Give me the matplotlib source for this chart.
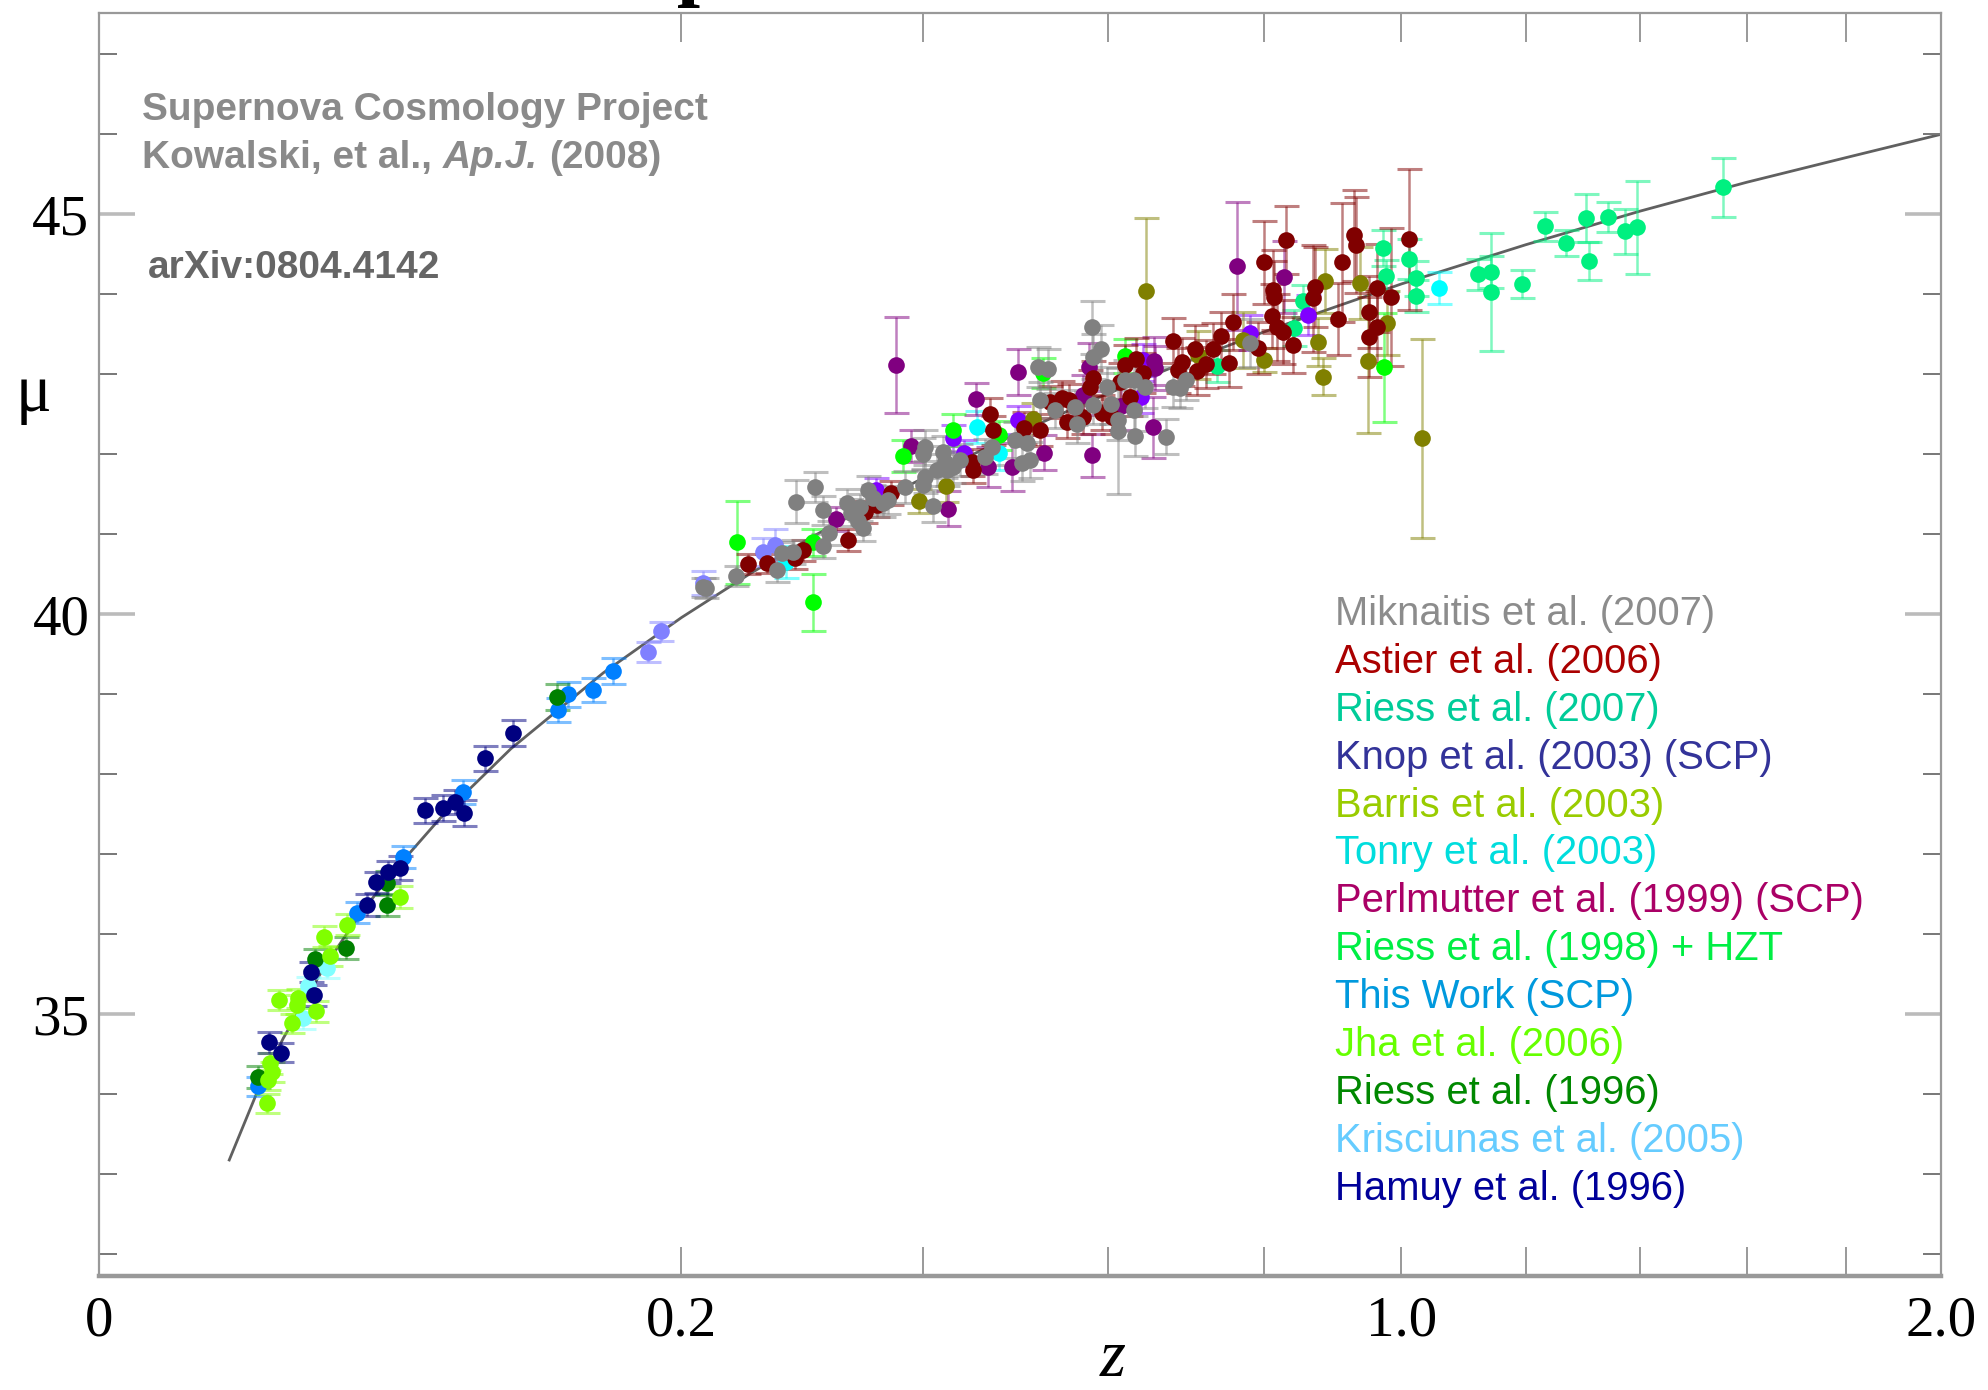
import matplotlib
matplotlib.use('Agg')
import numpy as np
import matplotlib.pyplot as plt
from matplotlib.colors import to_rgba

# ---- data (z, distance modulus mu, error) ----
hamuy_z = [0.0171, 0.0195, 0.0265, 0.0273, 0.0424, 0.0453, 0.0493, 0.0535, 0.0627, 0.0698, 0.0748, 0.0786, 0.0879, 0.1011]
hamuy_mu = [34.65, 34.52, 35.53, 35.24, 36.37, 36.65, 36.78, 36.83, 37.55, 37.58, 37.65, 37.52, 38.20, 38.52]
hamuy_err = [0.13, 0.12, 0.12, 0.13, 0.14, 0.13, 0.14, 0.15, 0.16, 0.16, 0.15, 0.16, 0.16, 0.16]

riess96_z = [0.0149, 0.0275, 0.0360, 0.0489, 0.0489, 0.1238]
riess96_mu = [34.22, 35.69, 35.83, 36.64, 36.37, 38.97]
riess96_err = [0.14, 0.13, 0.14, 0.15, 0.14, 0.16]

jha_z = [0.0535, 0.0363, 0.0299, 0.0315, 0.0191, 0.0234, 0.0231, 0.0278, 0.0220, 0.0173, 0.0177, 0.0169, 0.0167]
jha_mu = [36.47, 36.12, 35.97, 35.73, 35.18, 35.20, 35.12, 35.04, 34.89, 34.39, 34.28, 34.18, 33.89]
jha_err = [0.14, 0.13, 0.13, 0.13, 0.12, 0.12, 0.12, 0.13, 0.12, 0.13, 0.13, 0.13, 0.12]

thiswork_z = [0.0149, 0.0393, 0.0545, 0.0782, 0.1243, 0.1297, 0.1440, 0.1559]
thiswork_mu = [34.10, 36.27, 36.97, 37.78, 38.81, 39.00, 39.05, 39.29]
thiswork_err = [0.12, 0.13, 0.14, 0.15, 0.15, 0.16, 0.15, 0.16]

kris_z = [0.0307, 0.0258, 0.0246]
kris_mu = [35.58, 35.35, 34.95]
kris_err = [0.13, 0.12, 0.13]

# periwinkle points (no legend entry in the original)
extra_z = [0.1778, 0.1863, 0.2152, 0.2601, 0.2696]
extra_mu = [39.53, 39.79, 40.39, 40.78, 40.87]
extra_err = [0.12, 0.12, 0.15, 0.18, 0.20]

riess98_z = [0.2401, 0.3007, 0.3007, 0.3813, 0.4302, 0.4778, 0.5257, 0.6210, 0.9726]
riess98_mu = [40.90, 40.15, 40.90, 41.98, 42.30, 42.24, 43.02, 43.23, 43.09]
riess98_err = [0.52, 0.36, 0.17, 0.20, 0.20, 0.18, 0.19, 0.21, 0.68]

riess07_z = [0.7373, 0.8411, 0.8551, 0.9711, 1.0108, 0.9771, 1.0217, 1.0217, 1.1217, 1.1414,
             1.1414, 1.1929, 1.2317, 1.2678, 1.3026, 1.3079, 1.3414, 1.3719, 1.3936, 1.5538]
riess07_mu = [43.10, 43.58, 43.92, 44.58, 44.44, 44.23, 44.20, 43.98, 44.25, 44.28,
              44.03, 44.13, 44.85, 44.64, 44.95, 44.42, 44.97, 44.79, 44.84, 45.34]
riess07_err = [0.20, 0.22, 0.20, 0.22, 0.25, 0.20, 0.22, 0.20, 0.19, 0.20,
               0.74, 0.18, 0.18, 0.16, 0.30, 0.24, 0.19, 0.28, 0.58, 0.37]

tonry_z = [0.2784, 0.4547, 0.4778, 1.0592]
tonry_mu = [40.65, 42.34, 42.02, 44.08]
tonry_err = [0.20, 0.20, 0.22, 0.20]

knop_z = [0.3562, 0.4302, 0.4414, 0.4982, 0.6405, 0.6429, 0.7815, 0.8623]
knop_mu = [41.55, 42.20, 42.02, 42.43, 42.72, 43.18, 43.52, 43.74]
knop_err = [0.15, 0.17, 0.16, 0.18, 0.20, 0.20, 0.22, 0.25]

perl_z = [0.3204, 0.3747, 0.3890, 0.4252, 0.4537, 0.4662, 0.4917, 0.4982, 0.5268,
          0.5712, 0.5782, 0.5817, 0.6161, 0.6553, 0.6566, 0.6579, 0.7639, 0.8283]
perl_mu = [41.19, 43.12, 42.10, 41.32, 42.69, 41.84, 41.84, 43.03, 42.02,
           42.74, 43.09, 41.99, 42.60, 42.34, 43.17, 43.08, 44.35, 44.22]
perl_err = [0.15, 0.60, 0.20, 0.22, 0.20, 0.25, 0.30, 0.29, 0.22,
            0.25, 0.30, 0.27, 0.30, 0.38, 0.30, 0.28, 0.80, 0.45]

barris_z = [0.3967, 0.4232, 0.5146, 0.6466, 0.7125, 0.7720, 0.8006, 0.8866, 0.8766, 0.8838,
            0.9380, 0.9786, 0.9485, 1.0325]
barris_mu = [41.42, 41.60, 42.44, 44.04, 43.24, 43.43, 43.18, 44.17, 43.40, 42.97,
             44.14, 43.64, 43.17, 42.20]
barris_err = [0.15, 0.20, 0.20, 0.92, 0.30, 0.35, 0.15, 0.40, 0.30, 0.23,
              0.45, 0.40, 0.90, 1.24]

astier_z = [0.2485, 0.2632, 0.2858, 0.2924, 0.3309, 0.3461, 0.3571, 0.3700, 0.4496, 0.4506,
            0.4683, 0.4715, 0.5047, 0.5223, 0.5335, 0.5471, 0.5550, 0.5528, 0.5712, 0.5793,
            0.5828, 0.5935, 0.6053, 0.6150, 0.6210, 0.6271, 0.6344, 0.6429, 0.6804, 0.6868,
            0.6919, 0.7086, 0.7112, 0.7229, 0.7321, 0.7426, 0.7533, 0.7586, 0.7924, 0.8006,
            0.8131, 0.8145, 0.8117, 0.8186, 0.8270, 0.8312, 0.8410, 0.8694, 0.8709, 0.9056,
            0.9114, 0.9291, 0.9321, 0.9500, 0.9514, 0.9620, 0.9635, 0.9847, 1.0123]
astier_mu = [40.63, 40.64, 40.70, 40.80, 40.93, 41.28, 41.37, 41.52, 41.90, 41.80,
             42.50, 42.30, 42.33, 42.30, 42.65, 42.70, 42.68, 42.40, 42.47, 42.84,
             42.95, 42.52, 42.47, 42.90, 43.12, 42.72, 43.19, 43.02, 43.42, 43.05,
             43.15, 43.32, 43.04, 43.13, 43.32, 43.48, 43.14, 43.65, 43.33, 44.40,
             44.05, 43.97, 43.73, 43.59, 43.53, 44.68, 43.37, 43.95, 44.09, 43.69,
             44.40, 44.74, 44.62, 43.47, 43.78, 43.59, 44.08, 43.97, 44.69]
astier_err = [0.12, 0.12, 0.13, 0.13, 0.14, 0.14, 0.15, 0.15, 0.17, 0.16,
              0.20, 0.18, 0.20, 0.20, 0.20, 0.22, 0.20, 0.20, 0.22, 0.22,
              0.22, 0.22, 0.22, 0.24, 0.25, 0.24, 0.26, 0.25, 0.28, 0.28,
              0.30, 0.30, 0.30, 0.30, 0.32, 0.30, 0.30, 0.35, 0.32, 0.52,
              0.50, 0.45, 0.40, 0.42, 0.40, 0.42, 0.35, 0.67, 0.50, 0.45,
              0.74, 0.57, 0.60, 0.50, 0.45, 0.45, 0.55, 0.86, 0.88]

mik_z = [0.2152, 0.2173, 0.2394, 0.2712, 0.2752, 0.2841, 0.3092, 0.3144, 0.3092, 0.2866,
         0.3024, 0.3301, 0.3336, 0.3416, 0.3398, 0.3443, 0.3488, 0.3534, 0.3626, 0.3672,
         0.3832, 0.4103, 0.4025, 0.4005, 0.4025, 0.4005, 0.4202, 0.4222, 0.4242, 0.4143,
         0.4302, 0.4373, 0.4631, 0.4704, 0.4950, 0.5026, 0.5113, 0.5080, 0.5201, 0.5313,
         0.5223, 0.5392, 0.5619, 0.5643, 0.5828, 0.5994, 0.6042, 0.6125, 0.6125, 0.5817,
         0.5923, 0.5828, 0.6319, 0.6210, 0.6454, 0.6319, 0.6332, 0.6716, 0.6804, 0.6894,
         0.6970, 0.7815]
mik_mu = [40.34, 40.33, 40.48, 40.55, 40.77, 40.78, 40.85, 41.02, 41.30, 41.41,
          41.59, 41.39, 41.27, 41.34, 41.17, 41.08, 41.55, 41.45, 41.39, 41.43,
          41.59, 41.35, 41.72, 41.62, 42.09, 42.00, 42.03, 41.90, 41.80, 41.80,
          41.84, 41.93, 41.97, 42.09, 42.18, 41.89, 41.93, 42.14, 43.09, 43.07,
          42.68, 42.55, 42.59, 42.38, 42.62, 42.84, 42.63, 42.43, 42.29, 43.59,
          43.32, 43.22, 42.93, 42.93, 42.84, 42.55, 42.23, 42.22, 42.84, 42.83,
          42.93, 43.39]
mik_err = [0.12, 0.12, 0.13, 0.14, 0.14, 0.15, 0.15, 0.15, 0.18, 0.27,
           0.19, 0.18, 0.17, 0.17, 0.16, 0.16, 0.18, 0.17, 0.17, 0.18,
           0.20, 0.20, 0.20, 0.20, 0.22, 0.20, 0.20, 0.20, 0.20, 0.20,
           0.20, 0.20, 0.22, 0.22, 0.22, 0.22, 0.22, 0.20, 0.25, 0.25,
           0.22, 0.22, 0.22, 0.24, 0.24, 0.25, 0.25, 0.25, 0.79, 0.33,
           0.30, 0.28, 0.25, 0.25, 0.26, 0.26, 0.25, 0.22, 0.25, 0.25,
           0.25, 0.30]

# best-fit cosmology curve
model_z = [0.01, 0.015, 0.02, 0.03, 0.04, 0.05, 0.07, 0.1, 0.15, 0.2, 0.25, 0.3, 0.35,
           0.4, 0.5, 0.6, 0.7, 0.8, 0.9, 1.0, 1.2, 1.4, 1.6, 1.8, 2.0]
model_mu = [33.18, 34.07, 34.70, 35.60, 36.24, 36.74, 37.50, 38.32, 39.27, 39.96, 40.51, 40.97, 41.36,
            41.70, 42.28, 42.76, 43.17, 43.53, 43.84, 44.13, 44.62, 45.04, 45.40, 45.71, 46.00]

legend_labels = ["Miknaitis et al. (2007)", "Astier et al. (2006)", "Riess et al. (2007)",
                 "Knop et al. (2003) (SCP)", "Barris et al. (2003)", "Tonry et al. (2003)",
                 "Perlmutter et al. (1999) (SCP)", "Riess et al. (1998) + HZT", "This Work (SCP)",
                 "Jha et al. (2006)", "Riess et al. (1996)", "Krisciunas et al. (2005)",
                 "Hamuy et al. (1996)"]
legend_colors = ["#8c8c8c", "#aa0000", "#00cc99", "#333399", "#99cc00", "#00dddd", "#aa0066",
                 "#00ee44", "#0099dd", "#66ff00", "#008800", "#66ccff", "#000099"]

# (z, mu, err, marker colour) in drawing order
datasets = [
    (riess07_z, riess07_mu, riess07_err, "#00f080"),
    (tonry_z, tonry_mu, tonry_err, "#00ffff"),
    (knop_z, knop_mu, knop_err, "#8000ff"),
    (barris_z, barris_mu, barris_err, "#808000"),
    (perl_z, perl_mu, perl_err, "#800080"),
    (riess98_z, riess98_mu, riess98_err, "#00ff00"),
    (extra_z, extra_mu, extra_err, "#8080ff"),
    (astier_z, astier_mu, astier_err, "#800000"),
    (mik_z, mik_mu, mik_err, "#808080"),
    (thiswork_z, thiswork_mu, thiswork_err, "#0080ff"),
    (kris_z, kris_mu, kris_err, "#80ffff"),
    (riess96_z, riess96_mu, riess96_err, "#008000"),
    (jha_z, jha_mu, jha_err, "#80ff00"),
    (hamuy_z, hamuy_mu, hamuy_err, "#000080"),
]


def fwd(x):
    return np.sqrt(np.clip(x, 0, None))


def inv(x):
    return np.square(x)


W, H = 1988, 1390
fig = plt.figure(figsize=(W / 200, H / 200), dpi=200)
ax = fig.add_axes([99 / W, 1 - 1276 / H, (1941 - 99) / W, (1276 - 12.7) / H])
ax.set_xscale('function', functions=(fwd, inv))

ax.plot(model_z, model_mu, color='#606060', lw=1.0, zorder=1)

for z, mu, err, c in datasets:
    # caps drawn lighter than the dots, like the original
    ax.errorbar(z, mu, yerr=err, fmt='none', ecolor=to_rgba(c, 0.5),
                elinewidth=0.9, capsize=4.5, capthick=1.1, zorder=2)
    ax.plot(z, mu, 'o', ms=6.0, mfc=c, mec='none', ls='none', zorder=3)

ax.set_xlim(0, 2.0)
ax.set_ylim(31.73, 47.52)

ax.set_xticks([0, 0.2, 1.0, 2.0])
ax.set_xticklabels(['0', '0.2', '1.0', '2.0'])
ax.set_xticks([0.4, 0.6, 0.8, 1.2, 1.4, 1.6, 1.8], minor=True)
ax.set_yticks([35, 40, 45])
ax.set_yticks(range(32, 48), minor=True)

serif = 'Liberation Serif'
for lab in ax.get_xticklabels() + ax.get_yticklabels():
    lab.set_fontfamily(serif)
    lab.set_fontsize(20.5)

ax.tick_params(axis='x', which='both', direction='in', length=10.5, width=0.6,
               color='#888888', top=True, pad=7)
ax.tick_params(axis='y', which='major', direction='in', length=13, width=1.3,
               color='#bbbbbb', right=True, pad=3.5)
ax.tick_params(axis='y', which='minor', direction='in', length=6.5, width=0.7,
               color='#777777', right=True)

for name, sp in ax.spines.items():
    sp.set_color('#999999')
    sp.set_linewidth(0.8)
ax.spines['bottom'].set_linewidth(1.6)

# axis labels
fig.text(1113 / W, 1 - 1360 / H, 'z', family=serif, style='italic', fontsize=24,
         ha='center', va='center')
fig.text(33 / W, 1 - 394 / H, '\u03bc', family=serif, fontsize=24, ha='center', va='center')

# clipped title glyph at the very top
fig.text(700 / W, 1 + 10 / H, 'p', family=serif, weight='bold', fontsize=30,
         ha='center', va='baseline')

# credits
sans = 'Liberation Sans'
fs_credit = 14
fig.text(142 / W, 1 - 120 / H, 'Supernova Cosmology Project', family=sans, weight='bold',
         fontsize=fs_credit, color='#8a8a8a', va='baseline')
fig.canvas.draw()
renderer = fig.canvas.get_renderer()
gap = 0.28 * fs_credit * 200 / 72
x = 142
for piece, st in [('Kowalski, et al.,', 'normal'), ('Ap.J.', 'italic'), ('(2008)', 'normal')]:
    t = fig.text(x / W, 1 - 168 / H, piece, family=sans, weight='bold', style=st,
                 fontsize=fs_credit, color='#8a8a8a', va='baseline')
    ext = t.get_window_extent(renderer)
    x = ext.x1 + gap
fig.text(148 / W, 1 - 278 / H, 'arXiv:0804.4142', family=sans, weight='bold',
         fontsize=fs_credit, color='#666666', va='baseline')

# coloured legend
for i, (lab, c) in enumerate(zip(legend_labels, legend_colors)):
    fig.text(1335 / W, 1 - (614 + 47.9 * i) / H, lab, family=sans, fontsize=14.4,
             color=c, va='center')

fig.savefig('out.png', dpi=200)
